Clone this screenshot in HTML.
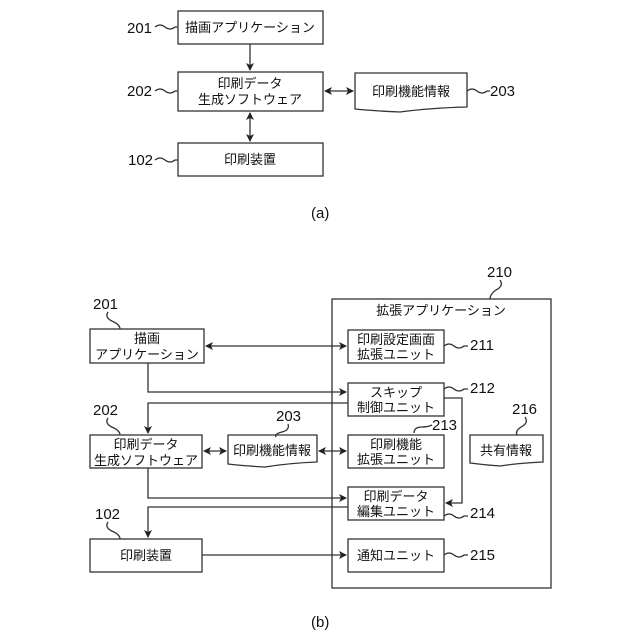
<!DOCTYPE html>
<html><head><meta charset="utf-8"><style>
html,body{margin:0;padding:0;background:#fff}
svg{display:block}
text{font-family:"Liberation Sans","Noto Sans CJK JP",sans-serif;fill:#111}
.b{font-size:13px}
.n{font-size:15px}
</style></head><body>
<svg width="640" height="640" viewBox="0 0 640 640" xmlns="http://www.w3.org/2000/svg">
<defs>
<marker id="a" markerWidth="8" markerHeight="8" refX="7" refY="4" orient="auto-start-reverse" markerUnits="userSpaceOnUse">
<path d="M0,0 L8,4 L0,8 L2,4 Z" fill="#222"/>
</marker>
</defs>
<g fill="none" stroke="#333" stroke-width="1.3">
<rect x="178" y="11" width="145" height="33"/>
<rect x="178" y="72" width="145" height="39"/>
<rect x="178" y="143" width="145" height="33"/>
<path d="M355,73 H467 V107 Q430,108 400,112 Q375,111 355,109 Z"/>
<path d="M250,44 V70" marker-end="url(#a)"/>
<path d="M325,91 H353" marker-start="url(#a)" marker-end="url(#a)"/>
<path d="M250,113 V141" marker-start="url(#a)" marker-end="url(#a)"/>
<path d="M155,27 q5,-4 10,0 t10,0 h3"/>
<path d="M155,91 q5,-4 10,0 t10,0 h3"/>
<path d="M155,160 q5,-4 10,0 t10,0 h3"/>
<path d="M467,91 q5,-4 10,0 t10,0 h3"/>
<rect x="332" y="299" width="219" height="289"/>
<rect x="90" y="329" width="114" height="34"/>
<rect x="90" y="435" width="112" height="33"/>
<rect x="90" y="539" width="112" height="33"/>
<rect x="348" y="330" width="96" height="33"/>
<rect x="348" y="383" width="96" height="33"/>
<rect x="348" y="435" width="96" height="33"/>
<rect x="348" y="487" width="96" height="33"/>
<rect x="348" y="539" width="96" height="33"/>
<path d="M228,435 H317 V462 Q290,463 265,467 Q245,466 228,464 Z"/>
<path d="M470,435 H543 V462 Q520,463 500,466 Q485,465 470,463 Z"/>
<path d="M206,346 H346" marker-start="url(#a)" marker-end="url(#a)"/>
<path d="M148,363 V392 H346" marker-end="url(#a)"/>
<path d="M348,403 H148 V433" marker-end="url(#a)"/>
<path d="M444,398 H462 V503 H446" marker-end="url(#a)"/>
<path d="M204,451 H226" marker-start="url(#a)" marker-end="url(#a)"/>
<path d="M319,451 H346" marker-start="url(#a)" marker-end="url(#a)"/>
<path d="M148,468 V498 H346" marker-end="url(#a)"/>
<path d="M348,507 H148 V537" marker-end="url(#a)"/>
<path d="M202,555 H346" marker-end="url(#a)"/>
<path d="M108,312 q-4,6 6,10 q6,3 6,7"/>
<path d="M108,418 q-4,6 6,10 q6,3 6,7"/>
<path d="M108,522 q-4,6 6,10 q6,3 6,7"/>
<path d="M500,280 q4,6 -4,10 q-6,4 -6,9"/>
<path d="M288,424 q2,6 -6,8 q-8,2 -6,5"/>
<path d="M525,417 q4,6 -4,10 q-6,4 -4,8"/>
<path d="M444,346 q5,-4 10,0 t10,0 h4"/>
<path d="M444,389 q5,-4 10,0 t10,0 h4"/>
<path d="M444,516 q5,-4 10,0 t10,0 h4"/>
<path d="M444,555 q5,-4 10,0 t10,0 h4"/>
<path d="M414,433 q0,-6 8,-6 q6,0 10,-2"/>
</g>
<g class="b" text-anchor="middle">
<text x="250" y="32">描画アプリケーション</text>
<text x="250" y="88">印刷データ</text>
<text x="250" y="104">生成ソフトウェア</text>
<text x="250" y="164">印刷装置</text>
<text x="411" y="96">印刷機能情報</text>
<text x="441" y="315">拡張アプリケーション</text>
<text x="147" y="343">描画</text>
<text x="147" y="359">アプリケーション</text>
<text x="146" y="449">印刷データ</text>
<text x="146" y="465">生成ソフトウェア</text>
<text x="146" y="560">印刷装置</text>
<text x="272" y="455">印刷機能情報</text>
<text x="506" y="455">共有情報</text>
<text x="396" y="344">印刷設定画面</text>
<text x="396" y="359">拡張ユニット</text>
<text x="396" y="397">スキップ</text>
<text x="396" y="412">制御ユニット</text>
<text x="396" y="449">印刷機能</text>
<text x="396" y="464">拡張ユニット</text>
<text x="396" y="501">印刷データ</text>
<text x="396" y="516">編集ユニット</text>
<text x="396" y="560">通知ユニット</text>
</g>
<g class="n">
<text x="127" y="33">201</text>
<text x="127" y="96">202</text>
<text x="128" y="165">102</text>
<text x="490" y="96">203</text>
<text x="93" y="309">201</text>
<text x="93" y="415">202</text>
<text x="95" y="519">102</text>
<text x="487" y="277">210</text>
<text x="276" y="421">203</text>
<text x="432" y="430">213</text>
<text x="512" y="414">216</text>
<text x="470" y="350">211</text>
<text x="470" y="393">212</text>
<text x="470" y="518">214</text>
<text x="470" y="560">215</text>
<text x="311" y="218">(a)</text>
<text x="311" y="627">(b)</text>
</g>
</svg>
</body></html>
